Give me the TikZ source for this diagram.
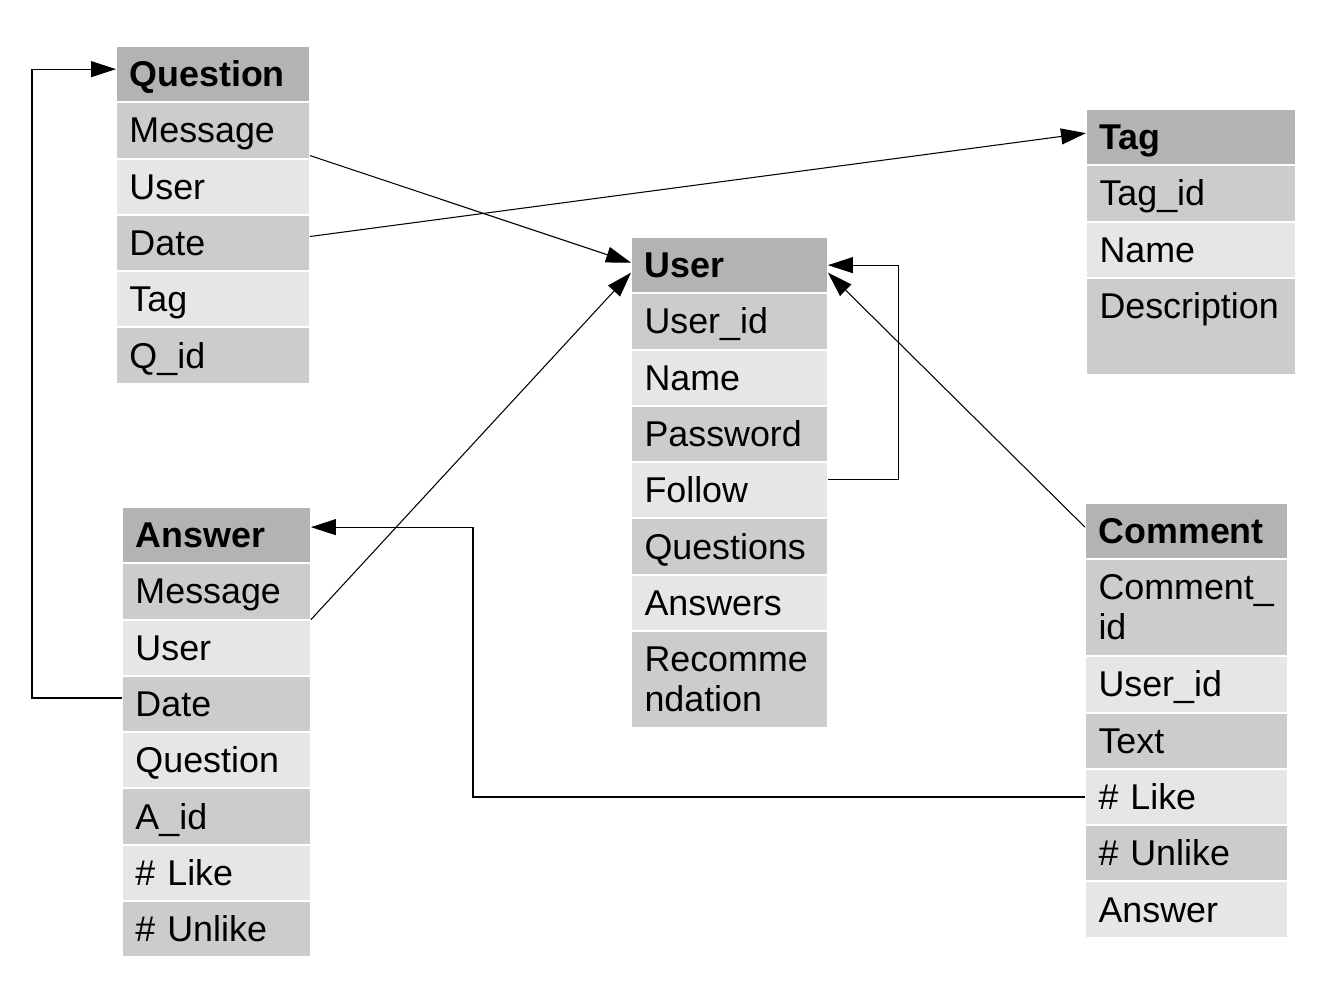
\documentclass[tikz,border=0pt]{standalone}
\usepackage{fontspec}
\setmainfont{Liberation Sans}
\usetikzlibrary{arrows.meta}
\definecolor{hdrgray}{HTML}{B3B3B3}
\definecolor{shade1}{HTML}{CCCCCC}
\definecolor{shade0}{HTML}{E6E6E6}
\tikzset{
  cell/.style={rectangle, draw=white, line width=0.04cm, anchor=north west,
    inner xsep=0.27cm, inner ysep=0pt, outer sep=0pt, align=left,
    text height=0.814cm, text depth=0.312cm,
    font=\fontsize{20.4pt}{22.76pt}\selectfont},
  hdr/.style={cell, fill=hdrgray, font=\fontsize{20.4pt}{22.76pt}\selectfont\bfseries},
  one/.style={},
  two/.style={text depth=1.126cm},
  conn/.style={line width=0.6pt, -{Triangle[length=0.5cm,width=0.32cm]}}
}
\begin{document}
\begin{tikzpicture}[x=0.02cm, y=-0.02cm]
\useasboundingbox (0,0) rectangle (1320,990);
% Question
\node[hdr, text width=3.34cm] (q0) at (116,46) {Question};
\foreach \lab/\kind [count=\i, evaluate=\i as \prev using int(\i-1),
    evaluate=\i as \shade using {int(mod(\i,2))}] in
    {Message/one, User/one, Date/one, Tag/one, Q\_id/one}
  \node[cell, \kind, fill=shade\shade, text width=3.34cm] (q\i) at (q\prev.south west) {\lab};
% Tag
\node[hdr, text width=3.66cm] (t0) at (1086,109) {Tag};
\foreach \lab/\kind [count=\i, evaluate=\i as \prev using int(\i-1),
    evaluate=\i as \shade using {int(mod(\i,2))}] in
    {Tag\_id/one, Name/one, Description/two}
  \node[cell, \kind, fill=shade\shade, text width=3.66cm] (t\i) at (t\prev.south west) {\lab};
% User
\node[hdr, text width=3.4cm] (u0) at (631,237) {User};
\foreach \lab/\kind [count=\i, evaluate=\i as \prev using int(\i-1),
    evaluate=\i as \shade using {int(mod(\i,2))}] in
    {User\_id/one, Name/one, Password/one, Follow/one, Questions/one, Answers/one, Recomme\\ndation/two}
  \node[cell, \kind, fill=shade\shade, text width=3.4cm] (u\i) at (u\prev.south west) {\lab};
% Answer
\node[hdr, text width=3.24cm] (a0) at (122,507) {Answer};
\foreach \lab/\kind [count=\i, evaluate=\i as \prev using int(\i-1),
    evaluate=\i as \shade using {int(mod(\i,2))}] in
    {Message/one, User/one, Date/one, Question/one, A\_id/one, \# Like/one, \# Unlike/one}
  \node[cell, \kind, fill=shade\shade, text width=3.24cm] (a\i) at (a\prev.south west) {\lab};
% Comment
\node[hdr, text width=3.52cm] (c0) at (1085,503) {Comment};
\foreach \lab/\kind [count=\i, evaluate=\i as \prev using int(\i-1),
    evaluate=\i as \shade using {int(mod(\i,2))}] in
    {Comment\_\\id/two, User\_id/one, Text/one, \# Like/one, \# Unlike/one, Answer/one}
  \node[cell, \kind, fill=shade\shade, text width=3.52cm] (c\i) at (c\prev.south west) {\lab};
% links
\draw[conn] ([yshift=0.06cm]q1.south east) -- ([yshift=0.05cm]u0.west);
\draw[conn] ([yshift=0.13cm]q3.east) -- ([yshift=0.08cm]t0.west);
\draw[conn] (a1.south east) -- ([yshift=-0.15cm]u0.west);
\draw[conn] ([yshift=0.12cm]a3.west) -- ++(-90,0) |- ([yshift=0.1cm]q0.west);
\draw[conn] ([yshift=0.22cm]u4.east) -- ++(71,0) |- (u0.east);
\draw[conn] ([yshift=0.08cm]c0.west) -- ([yshift=-0.15cm]u0.east);
\draw[conn] (c4.west) -- ++(-612,0) |- ([yshift=0.16cm]a0.east);
\end{tikzpicture}
\end{document}
